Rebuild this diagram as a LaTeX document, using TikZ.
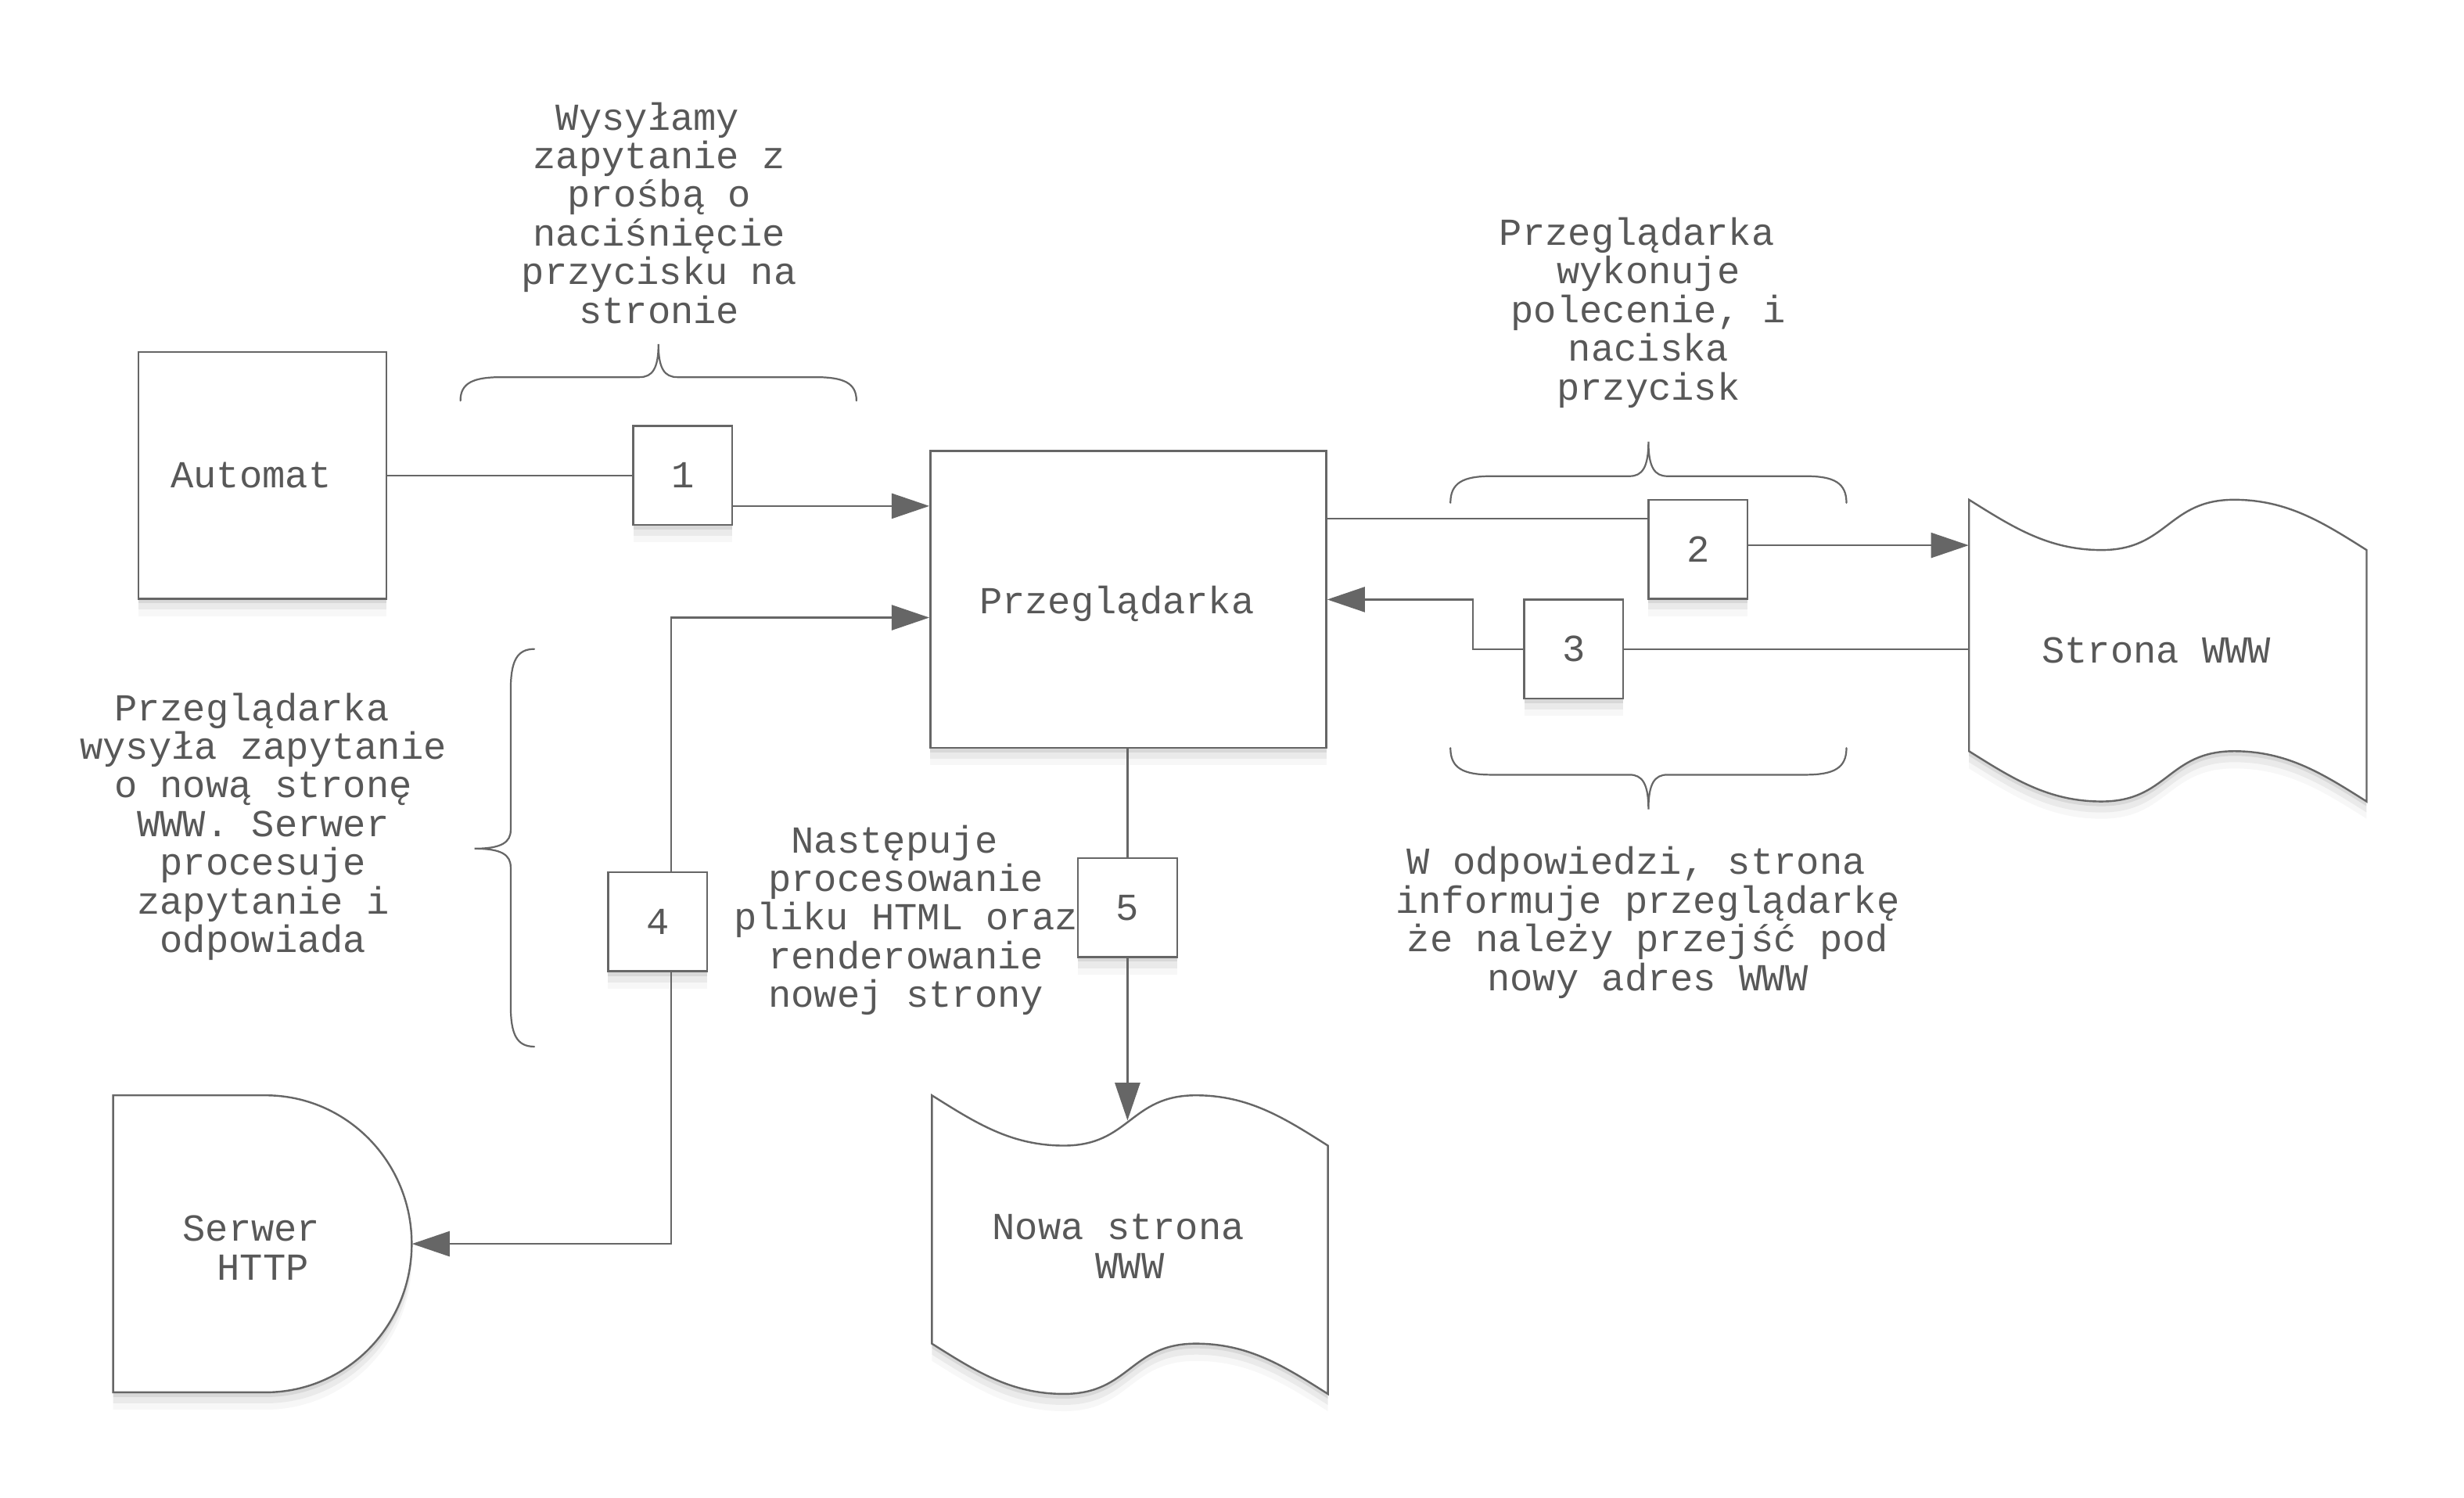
\documentclass[tikz,border=0pt]{standalone}
\usepackage{fontspec}
\setmonofont{Liberation Mono}
\usetikzlibrary{arrows.meta,shadows}
\definecolor{ln}{RGB}{102,102,102}
\definecolor{tx}{RGB}{88,88,88}
\newcommand{\tsp}{\hphantom{x}}
% horizontal brace: xl, xr, yend, yflat, ytip, xmid
\newcommand{\hbr}[6]{%
\draw[br] (#1,#3) .. controls (#1,{#3+0.75*(#4-#3)}) and ({#1+8},#4) .. ({#1+26},#4) -- ({#6-12},#4) .. controls ({#6-4},#4) and (#6,{#4+0.25*(#5-#4)}) .. (#6,#5) .. controls (#6,{#4+0.25*(#5-#4)}) and ({#6+4},#4) .. ({#6+12},#4) -- ({#2-26},#4) .. controls ({#2-8},#4) and (#2,{#3+0.75*(#4-#3)}) .. (#2,#3);}
% vertical brace: ytop, ybot, xend, xflat, xtip, ymid
\newcommand{\vbr}[6]{%
\draw[br] (#3,#1) .. controls ({#3+0.75*(#4-#3)},#1) and (#4,{#1+8}) .. (#4,{#1+26}) -- (#4,{#6-12}) .. controls (#4,{#6-4}) and ({#4+0.25*(#5-#4)},#6) .. (#5,#6) .. controls ({#4+0.25*(#5-#4)},#6) and (#4,{#6+4}) .. (#4,{#6+12}) -- (#4,{#2-26}) .. controls (#4,{#2-8}) and ({#3+0.75*(#4-#3)},#2) .. (#3,#2);}
% document shape: x0, y0, w, H, options
\newcommand{\docshape}[5]{%
\path[#5] (#1,#2) .. controls ({#1+#3/9},{#2+17.6}) and ({#1+#3/5},{#2+32}) .. ({#1+#3/3},{#2+32}) .. controls ({#1+#3/2},{#2+32}) and ({#1+#3/2},#2) .. ({#1+2*#3/3},#2) .. controls ({#1+0.8*#3},#2) and ({#1+0.89*#3},{#2+14.4}) .. ({#1+#3},{#2+32}) -- ({#1+#3},{#2+#4}) .. controls ({#1+0.89*#3},{#2+#4-17.6}) and ({#1+0.8*#3},{#2+#4-32}) .. ({#1+2*#3/3},{#2+#4-32}) .. controls ({#1+#3/2},{#2+#4-32}) and ({#1+#3/2},{#2+#4}) .. ({#1+#3/3},{#2+#4}) .. controls ({#1+#3/5},{#2+#4}) and ({#1+#3/9},{#2+#4-14.4}) .. (#1,{#2+#4-32}) -- cycle;}
\begin{document}
\begin{tikzpicture}[x=1pt,y=-1pt,
  txt/.style={font=\ttfamily\fontsize{24.3}{24.6}\selectfont, text=tx, inner sep=0pt, align=center},
  sh/.style={drop shadow={shadow xshift=0pt,shadow yshift=-3pt,opacity=0.07,fill=black},
             drop shadow={shadow xshift=0pt,shadow yshift=-7pt,opacity=0.05,fill=black},
             drop shadow={shadow xshift=0pt,shadow yshift=-11pt,opacity=0.03,fill=black}},
  shp/.style={draw=ln, line width=1.2pt, fill=white, sh},
  nbox/.style={shp, txt, minimum width=63pt, minimum height=63pt},
  conn/.style={draw=ln, line width=1.1pt},
  arr/.style={conn, -{Triangle[length=24pt,width=16pt]}},
  br/.style={draw=ln, line width=1.1pt, line cap=round}
]
\useasboundingbox (0,0) rectangle (1568,953);
\fill[white] (0,0) rectangle (1568,953);

% main shapes
\node[shp, txt, minimum width=158pt, minimum height=157pt] (aut) at (167,302.5) {Automat\tsp};
\node[shp, txt, minimum width=252pt, minimum height=189pt] (prz) at (718,381.5) {};
\node[txt] (przt) at ([yshift=-2.5pt]prz.center) {Przeglądarka\tsp};

\docshape{1253}{318}{253}{192}{shp}
\node[txt, minimum width=253pt, minimum height=192pt] (str) at (1379.5,414) {Strona WWW\tsp};

\docshape{593}{697}{252}{190}{shp}
\node[txt] (nws) at (719,793) {Nowa strona\tsp\\WWW};
\coordinate (nwtop) at (719,713);

\path[shp] (72,697) -- (169,697) .. controls (220.4,697) and (262,739.3) .. (262,791.5) .. controls (262,843.7) and (220.4,886) .. (169,886) -- (72,886) -- cycle;
\node[inner sep=0pt, minimum width=190pt, minimum height=189pt] (srv) at (167,791.5) {};
\node[txt] (srvt) at (160,794) {Serwer\\\tsp HTTP};

% numbered boxes
\node[nbox] (b1) at (434.5,302.5) {1};
\node[nbox] (b2) at (1080.5,349.5) {2};
\node[nbox] (b3) at (1001.5,413) {3};
\node[nbox] (b4) at (418.5,586.5) {4};
\node[nbox] (b5) at (717.5,577.5) {5};

% connectors
\draw[conn] (aut.east) -- (b1.west);
\draw[arr] ([yshift=-19.5pt]b1.east) -- ([yshift=-19.5pt]b1.east -| prz.west);
\draw[conn] ([yshift=19.5pt]b2.west -| prz.east) -- ([yshift=19.5pt]b2.west);
\draw[arr] ([yshift=2.5pt]b2.east) -- ([yshift=2.5pt]b2.east -| str.west);
\draw[conn] (str.west |- b3.east) -- (b3.east);
\draw[arr] (b3.west) -- ++(-32,0) |- (prz.east);
\draw[arr] ([xshift=8.5pt]b4.north) |- ([yshift=-11.5pt]prz.west);
\draw[arr] ([xshift=8.5pt]b4.south) |- (srv.east);
\draw[conn] (b5.north |- prz.south) -- (b5.north);
\draw[arr] (b5.south) -- (b5.south |- nwtop);

% braces
\hbr{293}{545}{255}{240}{219}{419}
\hbr{923}{1175}{320}{303}{281}{1049}
\hbr{923}{1175}{476}{493}{515}{1049}
\vbr{413}{666}{340}{325}{302}{540}

% annotations
\node[txt] (t1) at (419.5,135.5) {Wysyłamy\tsp\\zapytanie z\\prośbą o\\naciśnięcie\\przycisku na\\stronie};
\node[txt] (t2) at (1049,199) {Przeglądarka\tsp\\wykonuje\\polecenie, i\\naciska\\przycisk};
\node[txt] (t3) at (1048.5,587) {W odpowiedzi, strona\tsp\\informuje przeglądarkę\\że należy przejść pod\\nowy adres WWW};
\node[txt] (t4) at (167.5,526) {Przeglądarka\tsp\\wysyła zapytanie\\o nową stronę\\WWW. Serwer\\procesuje\\zapytanie i\\odpowiada};
\node[txt] (t5) at (576.5,585.5) {Następuje\tsp\\procesowanie\\pliku HTML oraz\\renderowanie\\nowej strony};
\end{tikzpicture}
\end{document}
